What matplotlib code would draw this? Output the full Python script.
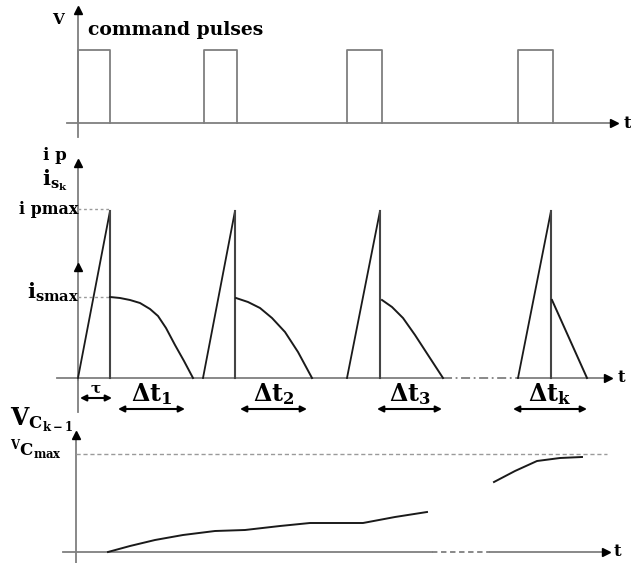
import numpy as np
import matplotlib.pyplot as plt

# command pulses (on / off instants)
pulse_on = [78, 204, 347, 518]
pulse_off = [110, 237, 382, 553]

# primary / secondary current cycles
ramp_start = [78, 203, 347, 518]
peak_t = [110, 235, 380, 551]
decay_t = [[110, 120, 130, 140, 150, 158, 166, 175, 184, 193],
           [236, 248, 260, 272, 285, 298, 312],
           [382, 392, 403, 415, 428, 443],
           [552, 587]]
decay_i = [[297, 298, 300, 303, 309, 316, 328, 345, 361, 378],
           [298, 302, 308, 318, 332, 352, 378],
           [300, 307, 318, 335, 355, 378],
           [300, 378]]

# capacitor voltage
vc1_t = [108, 130, 155, 183, 215, 245, 280, 310, 363, 395, 427]
vc1_v = [552, 546, 540, 535, 531, 530, 526, 523, 523, 517, 512]
vc2_t = [494, 515, 537, 560, 582]
vc2_v = [482, 471, 461, 458, 457]

# interval markers
span_labels = [r'$\tau$', r'$\Delta \mathrm{t_1}$', r'$\Delta \mathrm{t_2}$',
               r'$\Delta \mathrm{t_3}$', r'$\Delta \mathrm{t_k}$']
span_from = [80, 118, 240, 377, 513]
span_to = [112, 185, 307, 442, 587]

AX = '#7f7f7f'
LN = '#1a1a1a'
plt.rcParams['font.family'] = ['DejaVu Serif']
plt.rcParams['mathtext.fontset'] = 'custom'
plt.rcParams['mathtext.rm'] = 'DejaVu Serif:bold'
plt.rcParams['mathtext.it'] = 'DejaVu Serif:bold'
plt.rcParams['mathtext.bf'] = 'DejaVu Serif:bold'

fig = plt.figure(figsize=(6.31, 5.63), dpi=100)
ax = fig.add_axes([0, 0, 1, 1])
ax.set_xlim(0, 631)
ax.set_ylim(563, 0)
ax.axis('off')

# panel 1
ax.plot([78, 78], [12, 137], color=AX, lw=1.3)
ax.plot(78, 10, marker='^', color='black', ms=6)
ax.plot([67, 612], [123, 123], color=AX, lw=1.3)
ax.plot(614, 123, marker='>', color='black', ms=6)
for a, b in zip(pulse_on, pulse_off):
    ax.plot([a, a, b, b], [123, 50, 50, 123], color=AX, lw=1.3)
ax.text(64, 20, 'V', fontsize=11, fontweight='bold', ha='right', va='center')
ax.text(88, 30, 'command pulses', fontsize=13.5, fontweight='bold', va='center')
ax.text(624, 123, 't', fontsize=12, fontweight='bold', va='center')

# panel 2
ax.plot([78, 78], [165, 380], color=AX, lw=1.3)
ax.plot(78, 163, marker='^', color='black', ms=6)
ax.plot(78, 267, marker='^', color='black', ms=6)
ax.plot([57, 443], [378, 378], color=AX, lw=1.3)
ax.plot([443, 518], [378, 378], color=AX, lw=1.3, ls=(0, (5, 2, 1, 2)))
ax.plot([518, 605], [378, 378], color=AX, lw=1.3)
ax.plot(608, 378, marker='>', color='black', ms=6)
ax.text(618, 378, 't', fontsize=12, fontweight='bold', va='center')
ax.plot([78, 110], [209, 209], color='#9a9a9a', lw=1, ls=(0, (2, 2)))
ax.plot([78, 110], [297, 297], color='#9a9a9a', lw=1, ls=(0, (2, 2)))
for k in range(4):
    ax.plot([ramp_start[k], peak_t[k]], [378, 211], color=LN, lw=1.3)
    ax.plot([peak_t[k], peak_t[k]], [211, 378], color='#444444', lw=1.5)
    ax.plot(decay_t[k], decay_i[k], color=LN, lw=1.4)
ax.text(43, 155, 'i p', fontsize=12, fontweight='bold', va='center')
ax.text(42, 180, r'$\mathrm{i_{s_k}}$', fontsize=15, va='center')
ax.text(78, 209, 'i pmax', fontsize=11.5, fontweight='bold', va='center', ha='right')
ax.text(79, 292, r'$\mathrm{i_{smax}}$', fontsize=15, va='center', ha='right')

# spans
for lab, a, b in zip(span_labels, span_from, span_to):
    big = lab != r'$\tau$'
    yy = 409 if big else 398
    ax.annotate('', xy=(a, yy), xytext=(b, yy),
                arrowprops=dict(arrowstyle='<|-|>', color='black', lw=1.5,
                                mutation_scale=9, shrinkA=0, shrinkB=0))
    ax.text((a + b) / 2, yy - 2, lab, fontsize=17 if big else 11,
            ha='center', va='bottom')
ax.plot([78, 78], [380, 412], color=AX, lw=1.3)

# panel 3
ax.plot([76, 76], [437, 563], color=AX, lw=1.3)
ax.plot(76, 435, marker='^', color='black', ms=6)
ax.plot([63, 432], [552, 552], color=AX, lw=1.3)
ax.plot([432, 490], [552, 552], color=AX, lw=1.3, ls=(0, (3, 2)))
ax.plot([490, 603], [552, 552], color=AX, lw=1.3)
ax.plot(606, 552, marker='>', color='black', ms=6)
ax.text(614, 552, 't', fontsize=12, fontweight='bold', va='center')
ax.plot([76, 607], [454, 454], color='#9a9a9a', lw=1, ls=(0, (3, 2)))
ax.plot(vc1_t, vc1_v, color=LN, lw=1.4)
ax.plot(vc2_t, vc2_v, color=LN, lw=1.4)
ax.text(10, 420, r'$\mathrm{V_{C_{k-1}}}$', fontsize=17, va='center')
ax.text(10, 450, r'$\mathrm{^{V}C_{max}}$', fontsize=12, va='center')

fig.savefig('out.png', dpi=100)
